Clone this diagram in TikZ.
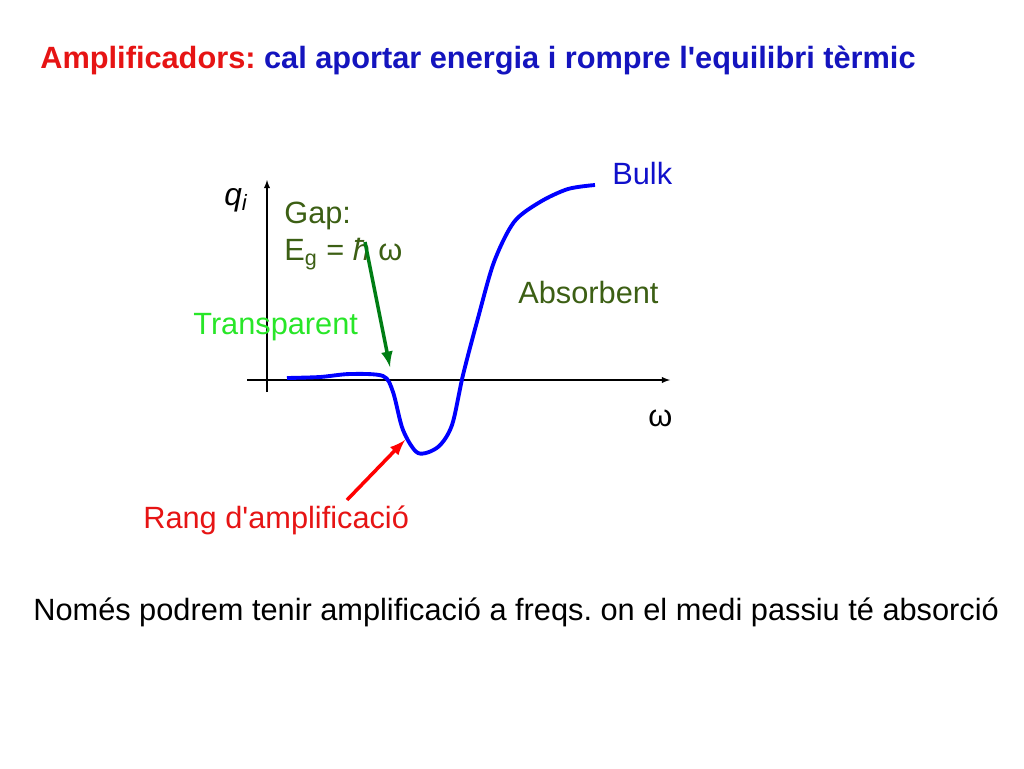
\documentclass[tikz,border=0pt]{standalone}
\usepackage{fontspec}
\setmainfont{Liberation Sans}
\usepackage{textcomp}
\frenchspacing
\definecolor{titlered}{RGB}{230,20,20}
\definecolor{titleblue}{RGB}{20,20,190}
\definecolor{olivegreen}{RGB}{60,95,20}
\definecolor{lightgreen}{RGB}{40,230,40}
\definecolor{arrowgreen}{RGB}{0,125,20}
\begin{document}
\begin{tikzpicture}[x=0.02cm, y=-0.02cm,
  txt/.style={anchor=west, inner sep=0pt, font=\fontsize{17.5pt}{21pt}\selectfont},
  axis/.style={line width=0.6pt, -latex}]

\useasboundingbox (0,0) rectangle (1024,768);

% title and footnote
\node[txt] (title) at (40,60) {\textcolor{titlered}{\textbf{Amplificadors:}} \textcolor{titleblue}{\textbf{cal aportar energia i rompre l\textquotesingle equilibri tèrmic}}};
\node[txt] (note) at (33,612) {Només podrem tenir amplificació a freqs. on el medi passiu té absorció};

% axes
\coordinate (xstart) at (247,380);
\coordinate (xend) at (670,380);
\coordinate (ystart) at (267,392);
\coordinate (yend) at (267,180);
\draw[axis] (xstart) -- (xend);
\draw[axis] (ystart) -- (yend);
\node[txt, font=\fontsize{18pt}{21pt}\selectfont\itshape] (qi) at (224,200) {q\textsubscript{i}};
\node[txt] (omega) at (648,418) {ω};

% curve
\draw[blue, line width=2.2pt, line join=round] plot[smooth, tension=0.5] coordinates {
  (287,378) (320,377) (350,374) (383,376) (393,392) (403,430) (418,453)
  (438,447) (452,425) (463,375) (478,318) (494,262) (514,222) (540,202)
  (568,189) (595,185)};

% labels
\node[txt, titleblue!80!blue] (bulk) at (612,174) {Bulk};
\node[txt, olivegreen] (absorbent) at (518,293) {Absorbent};
\node[txt, lightgreen] (transparent) at (193,327) {Transparent};
\node[txt, olivegreen, align=left] (gap) at (284,236) {Gap:\\E\textsubscript{g} = \textit{ħ} ω};
\node[txt, titlered] (rang) at (143,520) {Rang d\textquotesingle amplificació};

% arrows
\coordinate (gaptip) at (390,367);
\coordinate (gapfrom) at (365,242);
\coordinate (rangtip) at (405,440);
\coordinate (rangfrom) at (347,500);
\draw[arrowgreen, line width=2pt, -latex] (gapfrom) -- (gaptip);
\draw[red, line width=2pt, -latex] (rangfrom) -- (rangtip);
\end{tikzpicture}
\end{document}
